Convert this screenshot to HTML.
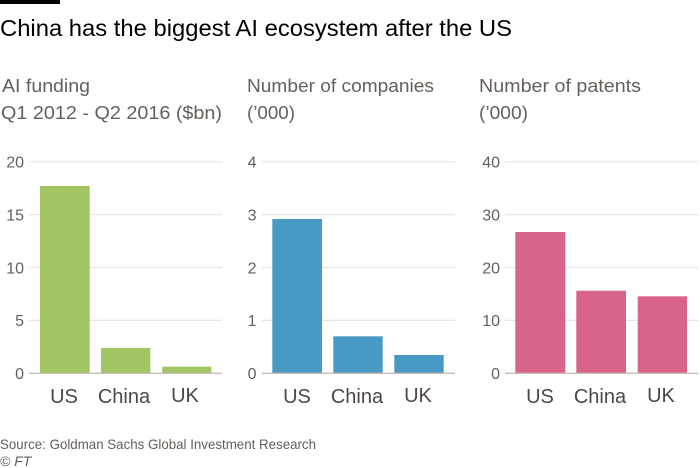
<!DOCTYPE html>
<html><head><meta charset="utf-8"><style>
html,body{margin:0;padding:0;background:#fff;}
svg{display:block;font-family:"Liberation Sans",sans-serif;}
</style></head><body>
<svg width="700" height="468" viewBox="0 0 700 468" xmlns="http://www.w3.org/2000/svg">
<rect x="0" y="0" width="700" height="468" fill="#fff"/>
<rect x="0" y="0" width="60" height="4" fill="#000"/>
<text x="0" y="36" font-size="23.5" fill="#000" textLength="512" lengthAdjust="spacingAndGlyphs">China has the biggest AI ecosystem after the US</text>

<g fill="#66605c" font-size="18">
<text x="2" y="92" textLength="88" lengthAdjust="spacingAndGlyphs">AI funding</text>
<text x="1" y="119" textLength="221" lengthAdjust="spacingAndGlyphs">Q1 2012 - Q2 2016 ($bn)</text>
<text x="247" y="92" textLength="187" lengthAdjust="spacingAndGlyphs">Number of companies</text>
<text x="247" y="119" textLength="48" lengthAdjust="spacingAndGlyphs">(’000)</text>
<text x="479" y="92" textLength="162" lengthAdjust="spacingAndGlyphs">Number of patents</text>
<text x="479" y="119" textLength="49" lengthAdjust="spacingAndGlyphs">(’000)</text>
</g>

<!-- gridlines -->
<g stroke="#ece6df" stroke-width="1.2">
<line x1="29" x2="222" y1="161.7" y2="161.7"/><line x1="29" x2="222" y1="214.6" y2="214.6"/><line x1="29" x2="222" y1="267.5" y2="267.5"/><line x1="29" x2="222" y1="320.4" y2="320.4"/>
<line x1="262" x2="455" y1="161.7" y2="161.7"/><line x1="262" x2="455" y1="214.6" y2="214.6"/><line x1="262" x2="455" y1="267.5" y2="267.5"/><line x1="262" x2="455" y1="320.4" y2="320.4"/>
<line x1="505" x2="698" y1="161.7" y2="161.7"/><line x1="505" x2="698" y1="214.6" y2="214.6"/><line x1="505" x2="698" y1="267.5" y2="267.5"/><line x1="505" x2="698" y1="320.4" y2="320.4"/>
</g>

<!-- bars -->
<g fill="#a2c563">
<rect x="40" y="185.9" width="49.7" height="187.4"/>
<rect x="101" y="347.9" width="49.3" height="25.4"/>
<rect x="162.3" y="366.7" width="49" height="6.6"/>
</g>
<g fill="#4899c4">
<rect x="272.3" y="219" width="49.7" height="154.3"/>
<rect x="333.3" y="336.3" width="49.4" height="37"/>
<rect x="394.3" y="355" width="49.4" height="18.3"/>
</g>
<g fill="#d9648a">
<rect x="515.3" y="232" width="50" height="141.3"/>
<rect x="576.3" y="290.7" width="49.7" height="82.6"/>
<rect x="637.7" y="296.3" width="49.3" height="77"/>
</g>

<!-- zero lines -->
<g stroke="#c9beb6" stroke-width="1.3">
<line x1="29" x2="222" y1="373.3" y2="373.3"/>
<line x1="262" x2="455" y1="373.3" y2="373.3"/>
<line x1="505" x2="698" y1="373.3" y2="373.3"/>
</g>

<!-- tick labels -->
<g fill="#66605c" font-size="16" text-anchor="end">
<text x="24" y="167.5">20</text><text x="24" y="220.4">15</text><text x="24" y="273.3">10</text><text x="24" y="326.2">5</text><text x="24" y="379.1">0</text>
<text x="256.5" y="167.5">4</text><text x="256.5" y="220.4">3</text><text x="256.5" y="273.3">2</text><text x="256.5" y="326.2">1</text><text x="256.5" y="379.1">0</text>
<text x="500" y="167.5">40</text><text x="500" y="220.4">30</text><text x="500" y="273.3">20</text><text x="500" y="326.2">10</text><text x="500" y="379.1">0</text>
</g>

<!-- category labels -->
<g fill="#4d4845" font-size="20" text-anchor="middle">
<text x="64" y="403">US</text><text x="124" y="403">China</text><text x="185" y="402">UK</text>
<text x="297" y="403">US</text><text x="357" y="403">China</text><text x="418" y="402">UK</text>
<text x="540" y="403">US</text><text x="600" y="403">China</text><text x="661" y="402">UK</text>
</g>

<text x="0" y="449" font-size="14" fill="#66605c" textLength="316" lengthAdjust="spacingAndGlyphs">Source: Goldman Sachs Global Investment Research</text>
<text x="0" y="466" font-size="14" fill="#66605c" font-style="italic">© FT</text>
</svg>
</body></html>
